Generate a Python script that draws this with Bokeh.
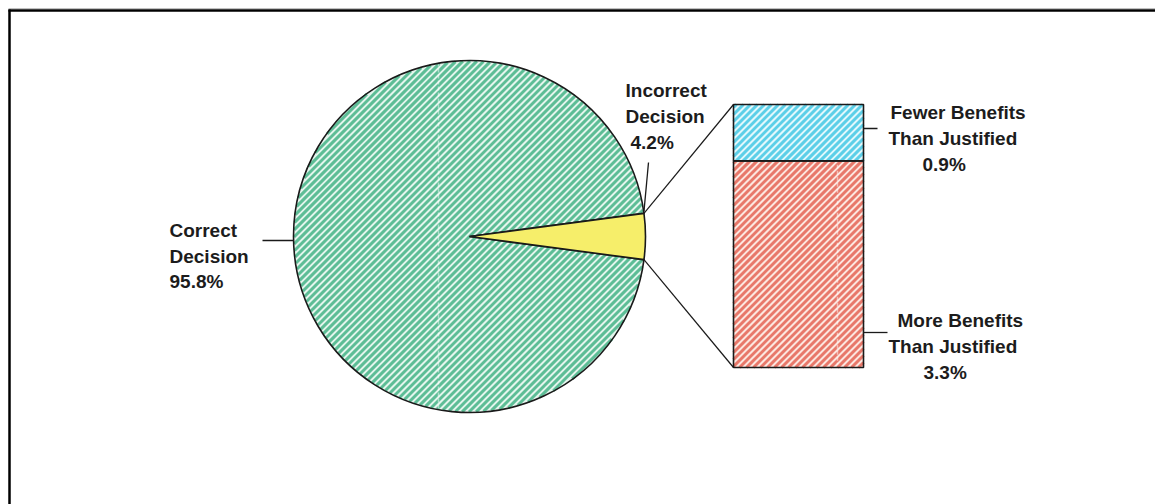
import math
from bokeh.plotting import figure
from bokeh.models import Range1d, ColumnDataSource
from bokeh.core.properties import value
from bokeh.embed import file_html
from bokeh.resources import INLINE

# ---- data ----
pie_labels = ["Correct Decision", "Incorrect Decision"]
pie_values = [95.8, 4.2]
bar_labels = ["More Benefits Than Justified", "Fewer Benefits Than Justified"]
bar_values = [3.3, 0.9]

W, H = 1155, 504
def Y(pix):
    return H - pix

FONT = value("Liberation Sans")
FS = "19px"
TXT = "#1c1c1c"
STEP = 7.0      # horizontal period of the diagonal hatch
SW = 3.0        # hatch stripe width

p = figure(width=W, height=H, x_range=Range1d(0, W), y_range=Range1d(0, H),
           output_backend="svg", toolbar_location=None, min_border=0,
           background_fill_color="white", border_fill_color="white")
p.xaxis.visible = False
p.yaxis.visible = False
p.grid.visible = False
p.outline_line_color = None

# ---- outer frame (cropped at right/bottom) ----
p.segment(x0=[8], y0=[Y(8)], x1=[W], y1=[Y(8)], line_color="#c0c0c0", line_width=1)
p.segment(x0=[8], y0=[Y(10)], x1=[W], y1=[Y(10)], line_color="black", line_width=2.5)
p.segment(x0=[9], y0=[Y(9)], x1=[9], y1=[0], line_color="black", line_width=2.5)

def circle_hatch(cx, cy, r, step):
    xs0, ys0, xs1, ys1 = [], [], [], []
    n = int(r * math.sqrt(2) / step) + 1
    for k in range(-n, n + 1):
        c = k * step
        disc = 2 * r * r - c * c
        if disc <= 0:
            continue
        s = math.sqrt(disc)
        xa, xb = (-c - s) / 2, (-c + s) / 2
        xs0.append(cx + xa); ys0.append(cy + xa + c)
        xs1.append(cx + xb); ys1.append(cy + xb + c)
    return xs0, ys0, xs1, ys1

def rect_hatch(x0, x1, y0, y1, step, phase=0.0):
    xs0, ys0, xs1, ys1 = [], [], [], []
    cmin, cmax = y0 - x1, y1 - x0
    k = math.floor((cmin - phase) / step)
    while phase + k * step <= cmax:
        c = phase + k * step
        lo, hi = max(x0, y0 - c), min(x1, y1 - c)
        if hi > lo:
            xs0.append(lo); ys0.append(lo + c)
            xs1.append(hi); ys1.append(hi + c)
        k += 1
    return xs0, ys0, xs1, ys1

# ---- pie ----
cx, cy, r = 469, Y(236), 176
total = sum(pie_values)
inc_half = pie_values[1] / total * math.pi
inc_start, inc_end = -inc_half, inc_half
cor_start, cor_end = inc_end, inc_start + 2 * math.pi
p.wedge(x=[cx], y=[cy], radius=r, start_angle=[cor_start], end_angle=[cor_end],
        fill_color="#e4f5ed", line_color=None)
hx0, hy0, hx1, hy1 = circle_hatch(cx, cy, r - 0.5, STEP)
p.segment(x0=hx0, y0=hy0, x1=hx1, y1=hy1, line_color="#5dbd96", line_width=SW)
p.segment(x0=[438], y0=[cy + r - 2], x1=[438], y1=[cy - r + 2],
          line_color="white", line_alpha=0.5, line_width=1.5, line_dash="4 2")
p.wedge(x=[cx], y=[cy], radius=r, start_angle=[cor_start], end_angle=[cor_end],
        fill_alpha=0, line_color="#1a1a1a", line_width=1.6)
p.wedge(x=[cx], y=[cy], radius=r, start_angle=[inc_start], end_angle=[inc_end],
        fill_color="#f6ee6a", line_color="#1a1a1a", line_width=1.6)

# ---- stacked bar ----
bx0, bx1, bbot = 733, 863, 367
scale = 263 / sum(bar_values)
bottoms, tops = [], []
acc = 0.0
for v in bar_values:
    bottoms.append(Y(bbot - acc * scale))
    acc += v
    tops.append(Y(bbot - acc * scale))
bar_fill = ["#fce6df", "#e2f8fc"]
bar_hatch = ["#e8786a", "#5ccfe8"]
for i in range(len(bar_values)):
    p.quad(left=[bx0], right=[bx1], bottom=[bottoms[i]], top=[tops[i]],
           fill_color=bar_fill[i], line_color=None)
    hx0, hy0, hx1, hy1 = rect_hatch(bx0, bx1, bottoms[i], tops[i], STEP)
    p.segment(x0=hx0, y0=hy0, x1=hx1, y1=hy1, line_color=bar_hatch[i], line_width=SW)
p.segment(x0=[837], y0=[tops[0] - 4], x1=[837], y1=[bottoms[0] + 3],
          line_color="white", line_alpha=0.5, line_width=1.5, line_dash="4 2")
p.quad(left=[bx0] * 2, right=[bx1] * 2, bottom=bottoms, top=tops,
       fill_alpha=0, line_color="#1a1a1a", line_width=1.6)

# connector lines: pie slice edges -> bar corners
ex_top = cx + r * math.cos(inc_end); ey_top = cy + r * math.sin(inc_end)
ex_bot = cx + r * math.cos(inc_start); ey_bot = cy + r * math.sin(inc_start)
p.segment(x0=[ex_top, ex_bot], y0=[ey_top, ey_bot], x1=[bx0, bx0],
          y1=[tops[-1], bottoms[0]], line_color="#1a1a1a", line_width=1.2)

# ---- leader lines ----
p.segment(x0=[262, 648, bx1, bx1], y0=[Y(240), Y(162), Y(128), Y(332)],
          x1=[cx - r, ex_top, 877, 887], y1=[Y(240), ey_top + 2, Y(128), Y(332)],
          line_color="#1a1a1a", line_width=1.3)

# ---- labels ----
def pct(v):
    return f"{v:.1f}%"

lab_x = [169, 169, 169,
         625, 625, 630,
         890, 888, 922,
         897, 888, 923]
lab_y = [230, 256, 281,
         90, 116, 142,
         112, 138, 164,
         320, 346, 372]
lab_t = ["Correct", "Decision", pct(pie_values[0]),
         "Incorrect", "Decision", pct(pie_values[1]),
         "Fewer Benefits", "Than Justified", pct(bar_values[1]),
         "More Benefits", "Than Justified", pct(bar_values[0])]
src = ColumnDataSource(dict(x=lab_x, y=[Y(v) for v in lab_y], t=lab_t))
p.text(x="x", y="y", text="t", source=src, text_font=FONT, text_font_size=FS,
       text_font_style="bold", text_color=TXT, text_align="left", text_baseline="middle")

open("out.html", "w").write(file_html(p, INLINE))
